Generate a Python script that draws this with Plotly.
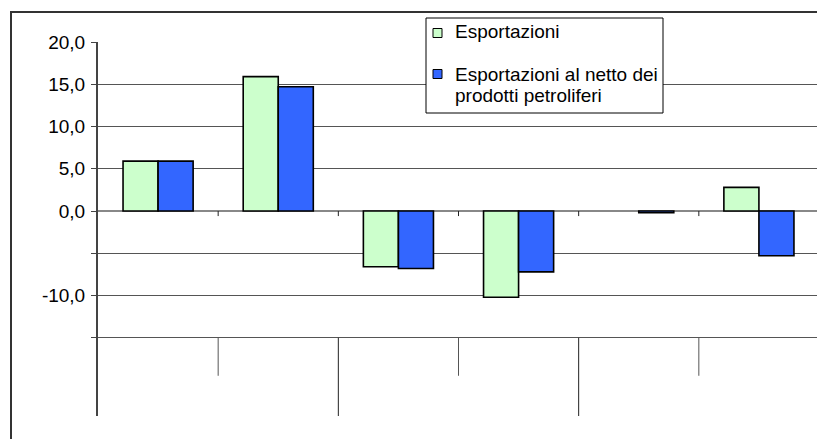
import plotly.graph_objects as go

# ---- data ----
categories = [0, 1, 2, 3, 4, 5]           # category labels are blank in the reference
series_names = ["Esportazioni", "Esportazioni al netto dei<br>prodotti petroliferi"]
esportazioni = [5.9, 15.9, -6.6, -10.2, None, 2.8]
esportazioni_netto = [5.9, 14.7, -6.8, -7.2, -0.2, -5.3]
ytick_vals = [20, 15, 10, 5, 0, -5, -10, -15]
ytick_text = ["20,0", "15,0", "10,0", "5,0", "0,0", "", "-10,0", ""]

GREEN = "#CCFFCC"
BLUE = "#3366FF"
FONT = "Liberation Sans, Arial, sans-serif"

YMIN, YMAX = -24.26, 20

# page body has an 8px default margin -> plot area in page pixels: x 98..819, y 42..416
OFF = 8
PL, PR, PT, PB = 98, 819, 42, 416
PW, PH = PR - PL, PB - PT

fig = go.Figure()
fig.add_trace(go.Bar(x=categories, y=esportazioni, name=series_names[0],
                     marker=dict(color=GREEN, line=dict(color="#000000", width=1.6))))
fig.add_trace(go.Bar(x=categories, y=esportazioni_netto, name=series_names[1],
                     marker=dict(color=BLUE, line=dict(color="#000000", width=1.6))))


def px_x(p):
    return (p - PL) / PW


def px_y(p):
    return (PB - p) / PH


shapes = []
# outer chart border (extends beyond the visible window on right/bottom)
shapes.append(dict(type="rect", xref="paper", yref="paper",
                   x0=px_x(11), x1=px_x(840), y0=px_y(455), y1=px_y(12),
                   line=dict(color="#333333", width=2), fillcolor="rgba(0,0,0,0)", layer="below"))
# right border of plot area
shapes.append(dict(type="line", xref="paper", yref="paper", x0=1, x1=1, y0=0, y1=1,
                   line=dict(color="#888888", width=2)))
# category separators below the plot area (multi-level axis look)
n = len(categories)
for i in range(n - 1):
    b = i + 0.5
    long_line = (i % 2 == 1)
    shapes.append(dict(type="line", xref="x", yref="y", x0=b, x1=b,
                       y0=-15, y1=(YMIN if long_line else -19.5),
                       line=dict(color="#222222" if long_line else "#555555", width=1)))
    # small ticks under the zero line
    shapes.append(dict(type="line", xref="x", yref="y", x0=b, x1=b, y0=0, y1=-0.6,
                       line=dict(color="#222222", width=1)))

# manual legend
shapes.append(dict(type="rect", xref="paper", yref="paper",
                   x0=px_x(426), x1=px_x(663), y0=px_y(113), y1=px_y(18),
                   line=dict(color="#000000", width=1), fillcolor="white", layer="above"))
for color, yc in [(GREEN, 33), (BLUE, 74)]:
    shapes.append(dict(type="rect", xref="paper", yref="paper",
                       x0=px_x(433), x1=px_x(442), y0=px_y(yc + 4.5), y1=px_y(yc - 4.5),
                       line=dict(color="#000000", width=1), fillcolor=color, layer="above"))

annotations = []
legend_lines = [(series_names[0], 31.5)] + [
    (t, 74 + 21.5 * k) for k, t in enumerate(series_names[1].split("<br>"))]
for text, yc in legend_lines:
    annotations.append(dict(xref="paper", yref="paper", x=px_x(453), y=px_y(yc),
                            xanchor="left", yanchor="middle", text=text, showarrow=False,
                            font=dict(family=FONT, size=19, color="#000000")))

fig.update_layout(
    width=825, height=439,
    margin=dict(l=PL - OFF, r=825 - PR + OFF, t=PT - OFF, b=439 - PB + OFF, pad=0),
    paper_bgcolor="white", plot_bgcolor="white",
    barmode="group", bargap=0.4167, bargroupgap=0,
    showlegend=False,
    shapes=shapes, annotations=annotations,
    font=dict(family=FONT, size=19, color="#000000"),
)
fig.update_xaxes(range=[-0.5, n - 0.5], showticklabels=False, showgrid=False,
                 zeroline=False, showline=False, ticks="")
fig.update_yaxes(range=[YMIN, YMAX], tickmode="array", tickvals=ytick_vals, ticktext=ytick_text,
                 showgrid=True, gridcolor="#555555", gridwidth=1,
                 zeroline=True, zerolinecolor="#888888", zerolinewidth=2,
                 showline=True, linecolor="#444444", linewidth=2,
                 ticks="outside", ticklen=5, tickcolor="#444444", tickwidth=1,
                 ticklabelstandoff=2, automargin=False,
                 tickfont=dict(family=FONT, size=19, color="#000000"))

fig.write_html("out.html")
